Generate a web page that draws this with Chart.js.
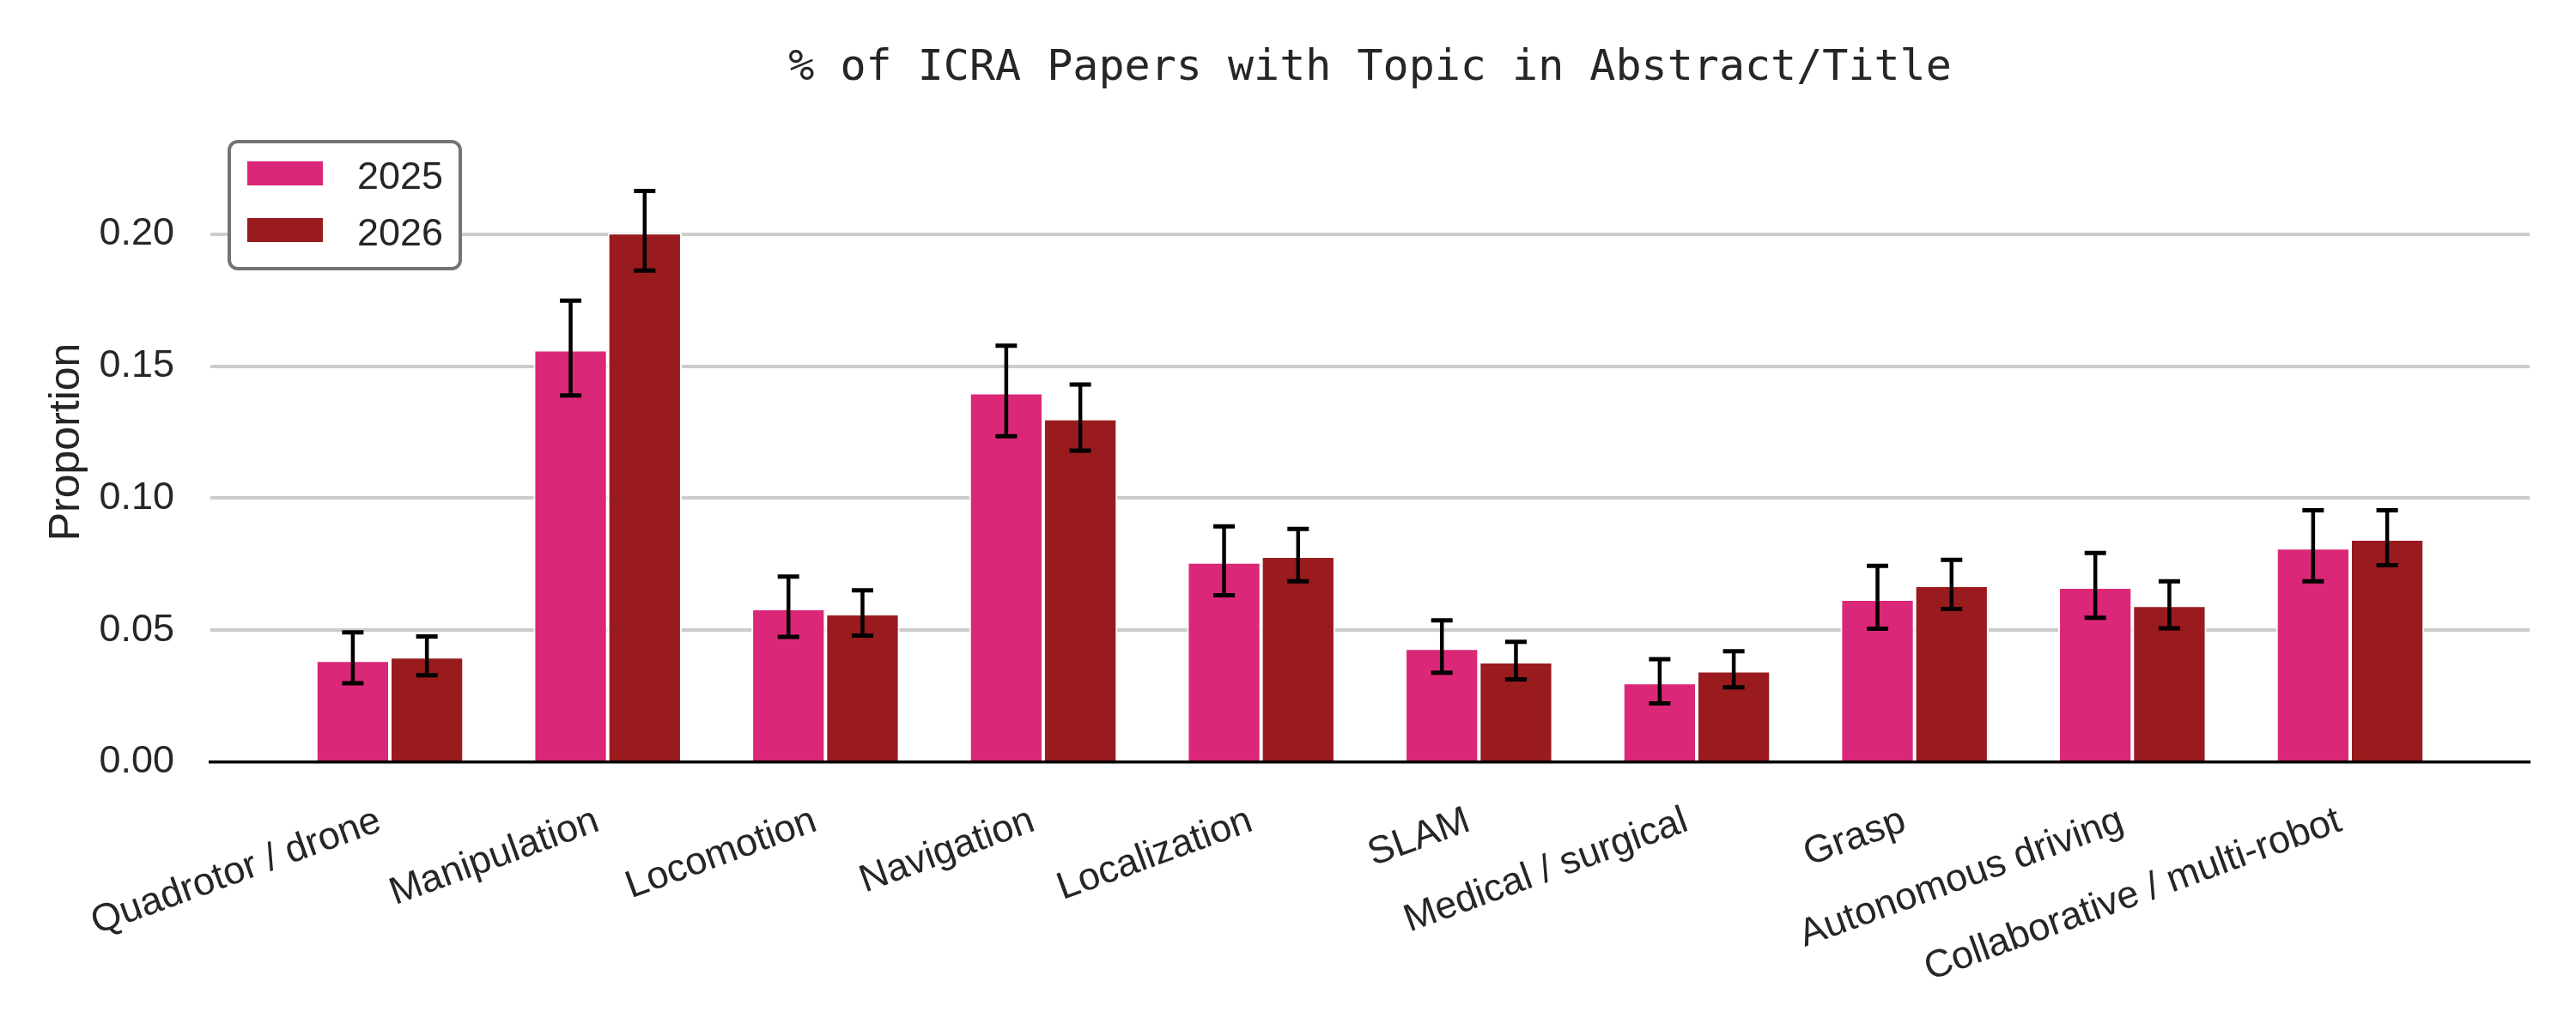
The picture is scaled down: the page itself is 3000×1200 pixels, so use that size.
<!DOCTYPE html>
<html>
<head>
<meta charset="utf-8">
<title>ICRA topics</title>
<script src="https://cdn.jsdelivr.net/npm/chart.js@4.4.1/dist/chart.umd.min.js"></script>
<style>
  html, body { margin: 0; padding: 0; background: #ffffff; }
  #wrap { width: 3000px; height: 1200px; }
</style>
</head>
<body>
<div id="wrap"><canvas id="topicChart" width="3000" height="1200"></canvas></div>
<script>
// Values
const categories = ['Quadrotor / drone', 'Manipulation', 'Locomotion', 'Navigation', 'Localization',
    'SLAM', 'Medical / surgical', 'Grasp', 'Autonomous driving', 'Collaborative / multi-robot'];
const years = ['2025', '2026'];

const share2025 = [0.0386, 0.1562, 0.0582, 0.1399, 0.0758, 0.0431, 0.0301, 0.0617, 0.0663, 0.0812];
const share2026 = [0.0399, 0.2005, 0.0562, 0.1301, 0.0780, 0.0380, 0.0346, 0.0669, 0.0594, 0.0845];

// lower / upper ends of the error bars
const low2025  = [0.0299, 0.1389, 0.0474, 0.1234, 0.0632, 0.0339, 0.0222, 0.0505, 0.0547, 0.0685];
const high2025 = [0.0491, 0.1748, 0.0703, 0.1577, 0.0893, 0.0537, 0.0390, 0.0743, 0.0792, 0.0954];
const low2026  = [0.0329, 0.1862, 0.0479, 0.1180, 0.0685, 0.0313, 0.0283, 0.0580, 0.0507, 0.0746];
const high2026 = [0.0476, 0.2163, 0.0651, 0.1430, 0.0883, 0.0456, 0.0420, 0.0766, 0.0685, 0.0954];

const yTicks = [0, 0.05, 0.10, 0.15, 0.20];
const yMax = 0.2425;
const xMin = -0.824;
const xMax = 9.824;

const TEXT = '#262626';
const SANS = '"Liberation Sans", Arial, sans-serif';

let toPoints = values => values.map((v, i) => ({ x: i, y: v }));

// Draw the error bars on top of the bars
let errorBars = {
    id: 'errorBars',
    afterDatasetsDraw(chart) {
        let ctx = chart.ctx;
        let yScale = chart.scales.y;
        chart.data.datasets.forEach((ds, i) => {
            let meta = chart.getDatasetMeta(i);
            meta.data.forEach((bar, j) => {
                let top = yScale.getPixelForValue(ds.errHigh[j]);
                let bottom = yScale.getPixelForValue(ds.errLow[j]);
                ctx.save();
                ctx.strokeStyle = '#000000';
                ctx.lineWidth = 4.5;
                ctx.beginPath();
                ctx.moveTo(bar.x, top);
                ctx.lineTo(bar.x, bottom);
                ctx.stroke();
                ctx.lineWidth = 5;
                ctx.beginPath();
                ctx.moveTo(bar.x - 12.5, top);
                ctx.lineTo(bar.x + 12.5, top);
                ctx.moveTo(bar.x - 12.5, bottom);
                ctx.lineTo(bar.x + 12.5, bottom);
                ctx.stroke();
                ctx.restore();
            });
        });
    }
};

// Boxed legend in the upper left corner of the plot
let boxLegend = {
    id: 'boxLegend',
    afterDraw(chart) {
        let ctx = chart.ctx;
        let area = chart.chartArea;
        let left = area.left + 22;
        let top = area.top + 23;
        ctx.save();
        ctx.beginPath();
        ctx.roundRect(left, top, 269, 148, 10);
        ctx.fillStyle = '#ffffff';
        ctx.fill();
        ctx.lineWidth = 4;
        ctx.strokeStyle = '#747474';
        ctx.stroke();

        ctx.font = '45px ' + SANS;
        ctx.textBaseline = 'alphabetic';
        ctx.textAlign = 'left';
        chart.data.datasets.forEach((ds, i) => {
            ctx.fillStyle = ds.backgroundColor;
            ctx.fillRect(left + 21, top + 23 + i * 66, 88, 28);
            ctx.fillStyle = TEXT;
            ctx.fillText(ds.label, left + 149, top + 55 + i * 66);
        });
        ctx.restore();
    }
};

let chart = new Chart(document.getElementById('topicChart'), {
    type: 'bar',
    data: {
        datasets: [{
            label: years[0],
            data: toPoints(share2025),
            errLow: low2025,
            errHigh: high2025,
            backgroundColor: '#db2777',
            borderColor: '#ffffff',
            borderWidth: 2
        }, {
            label: years[1],
            data: toPoints(share2026),
            errLow: low2026,
            errHigh: high2026,
            backgroundColor: '#991b1e',
            borderColor: '#ffffff',
            borderWidth: 2
        }]
    },
    options: {
        responsive: false,
        devicePixelRatio: 1,
        animation: false,
        categoryPercentage: 0.68,
        barPercentage: 1.0,
        layout: {
            padding: { left: 6, right: 54, top: 0, bottom: 2 }
        },
        scales: {
            x: {
                type: 'linear',
                min: xMin,
                max: xMax,
                offset: false,
                z: 1,
                grid: { display: false, drawTicks: false, offset: false },
                border: { display: true, color: '#000000', width: 3.5 },
                afterBuildTicks: scale => {
                    scale.ticks = categories.map((c, i) => ({ value: i }));
                },
                ticks: {
                    autoSkip: false,
                    minRotation: 20,
                    maxRotation: 20,
                    padding: 42,
                    labelOffset: -12,
                    color: TEXT,
                    font: { family: SANS, size: 45 },
                    callback: value => categories[value]
                }
            },
            y: {
                min: 0,
                max: yMax,
                afterBuildTicks: scale => {
                    scale.ticks = yTicks.map(v => ({ value: v }));
                },
                // keep the axis box at the reference width
                afterFit: scale => {
                    scale.width = 239;
                },
                grid: {
                    drawTicks: false,
                    lineWidth: 4,
                    color: ctx => ctx.tick && ctx.tick.value === 0 ? 'rgba(0,0,0,0)' : '#cccccc'
                },
                border: { display: false },
                ticks: {
                    padding: 42,
                    color: TEXT,
                    font: { family: SANS, size: 45 },
                    callback: value => value.toFixed(2)
                },
                title: {
                    display: true,
                    text: 'Proportion',
                    color: TEXT,
                    font: { family: SANS, size: 50 },
                    padding: { top: 42, bottom: 6 }
                }
            }
        },
        plugins: {
            legend: { display: false },
            tooltip: { enabled: false },
            title: {
                display: true,
                fullSize: false,
                text: '% of ICRA Papers with Topic in Abstract/Title',
                color: TEXT,
                font: { family: '"DejaVu Sans Mono", monospace', size: 50, weight: 'normal' },
                padding: { top: 50, bottom: 32 }
            }
        }
    },
    plugins: [errorBars, boxLegend]
});
</script>
</body>
</html>
